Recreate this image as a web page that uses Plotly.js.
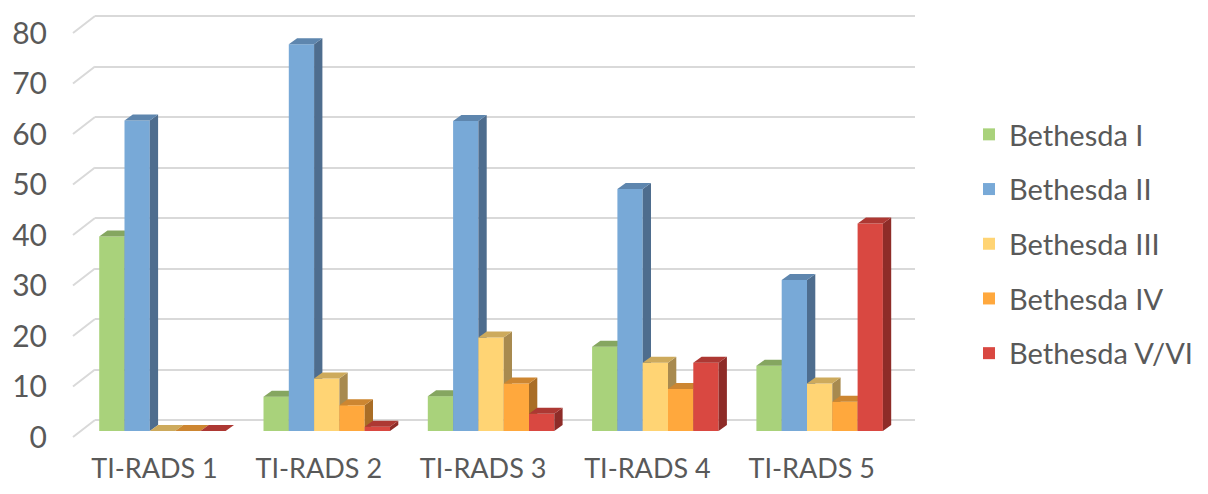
<!DOCTYPE html>
<html>
<head>
<meta charset="utf-8">
<script src="https://cdn.plot.ly/plotly-3.0.1.min.js"></script>
<style>html,body{margin:0;padding:0;background:#fff;}#chart{width:1208px;height:494px;}</style>
</head>
<body>
<div id="chart"></div>
<script>
// ---- data ----
const categories = ['TI-RADS 1', 'TI-RADS 2', 'TI-RADS 3', 'TI-RADS 4', 'TI-RADS 5'];
const seriesNames = ['Bethesda I', 'Bethesda II', 'Bethesda III', 'Bethesda IV', 'Bethesda V/VI'];
const bethesdaI   = [38.5, 6.8, 6.9, 16.7, 12.9];
const bethesdaII  = [61.5, 76.6, 61.4, 47.9, 29.9];
const bethesdaIII = [0, 10.4, 18.5, 13.5, 9.4];
const bethesdaIV  = [0, 5.1, 9.4, 8.3, 5.8];
const bethesdaV   = [0, 0.85, 3.4, 13.5, 41.1];
const yTicks = [0, 10, 20, 30, 40, 50, 60, 70, 80];

// ---- styles ----
const frontColors = ['#A9D27B', '#78A9D7', '#FFD474', '#FFA83D', '#D94841'];
const topColors   = ['#85A660', '#5E86AE', '#CDAA5C', '#CD8631', '#AD3833'];
const sideColors  = ['#6E8A4D', '#4E6D8E', '#A88A4F', '#A96D26', '#8E2C28'];
const textColor = '#595959';
const gridColor = '#D9D9D9';
const FONT = 'Lato, "Open Sans", sans-serif';

// ---- geometry (pixels) ----
const W = 1208, H = 494;
const mL = 95, mR = W - 915, mT = 10, mB = 50;
const plotW = W - mL - mR, plotH = H - mT - mB;
const pxPerCat = 164.3, pxPerUnit = 5.05;
const firstLabelPx = 154.5;          // absolute x of first category centre
const gridZeroPx = 420, barZeroPx = 431, frontLabelDrop = 17, diagDx = 22;
const barPx = 25.3, groupStartPx = -55.3, depthDxPx = 8.3, depthDyPx = 6;

const xMin = -(firstLabelPx - mL) / pxPerCat;
const xRange = [xMin, xMin + plotW / pxPerCat];
const gridRange = [-(plotH - (gridZeroPx - mT)) / pxPerUnit, (gridZeroPx - mT) / pxPerUnit];
const barRange = [-(plotH - (barZeroPx - mT)) / pxPerUnit, (barZeroPx - mT) / pxPerUnit];
const barW = barPx / pxPerCat, groupOff = groupStartPx / pxPerCat;
const dx = depthDxPx / pxPerCat, dy = depthDyPx / pxPerUnit;

const allSeries = [bethesdaI, bethesdaII, bethesdaIII, bethesdaIV, bethesdaV];
const xIdx = categories.map((c, i) => i);

const traces = [];
const layout = {
  width: W, height: H,
  margin: {l: mL, r: mR, t: mT, b: mB},
  paper_bgcolor: '#fff', plot_bgcolor: 'rgba(0,0,0,0)',
  showlegend: true,
  legend: {
    x: (969 - mL) / plotW, xanchor: 'left', y: (mT + plotH - 244) / plotH, yanchor: 'middle',
    font: {family: FONT, size: 29, color: textColor},
    traceorder: 'grouped', tracegroupgap: 14, itemwidth: 30
  },
  xaxis: {
    type: 'linear', range: xRange, tickvals: xIdx, ticktext: categories,
    showgrid: false, zeroline: false, showline: false, ticks: '',
    ticklabelstandoff: 6,
    tickfont: {family: FONT, size: 27, color: textColor}, fixedrange: true
  },
  yaxis: {
    range: gridRange, tickvals: yTicks, ticktext: yTicks.map(String),
    showgrid: true, gridcolor: gridColor, gridwidth: 2, zeroline: false, showline: false,
    ticks: '', ticklabelshift: frontLabelDrop, ticklabelstandoff: 47,
    tickfont: {family: FONT, size: 30, color: textColor}, fixedrange: true
  },
  shapes: yTicks.map(v => ({
    type: 'line', xref: 'paper', yref: 'y',
    x0: -diagDx / plotW, x1: 0, y0: v - frontLabelDrop / pxPerUnit, y1: v,
    line: {color: gridColor, width: 2}, layer: 'below'
  }))
};

// anchor trace for the base subplot
traces.push({type: 'scatter', x: [], y: [], xaxis: 'x', yaxis: 'y', showlegend: false, hoverinfo: 'skip'});

allSeries.forEach((vals, s) => {
  const n = s + 2;
  const xa = 'x' + n, ya = 'y' + n;
  layout['xaxis' + n] = {overlaying: 'x', range: xRange, visible: false, fixedrange: true};
  layout['yaxis' + n] = {overlaying: 'y', range: barRange, visible: false, fixedrange: true};
  const off = groupOff + s * barW;
  traces.push({
    type: 'bar', name: seriesNames[s], legendgroup: 'g' + s,
    x: xIdx, y: vals, width: barW, offset: off,
    marker: {color: frontColors[s], line: {width: 0}},
    xaxis: xa, yaxis: ya, hoverinfo: 'skip'
  });
  const tx = [], ty = [], sx = [], sy = [];
  vals.forEach((v, k) => {
    const x0 = k + off, x1 = x0 + barW;
    tx.push(x0, x1, x1 + dx, x0 + dx, x0, null);
    ty.push(v, v, v + dy, v + dy, v, null);
    sx.push(x1, x1 + dx, x1 + dx, x1, x1, null);
    sy.push(0, dy, v + dy, v, 0, null);
  });
  traces.push({type: 'scatter', mode: 'lines', x: sx, y: sy, fill: 'toself',
    fillcolor: sideColors[s], line: {width: 0, color: sideColors[s]},
    xaxis: xa, yaxis: ya, showlegend: false, hoverinfo: 'skip'});
  traces.push({type: 'scatter', mode: 'lines', x: tx, y: ty, fill: 'toself',
    fillcolor: topColors[s], line: {width: 0, color: topColors[s]},
    xaxis: xa, yaxis: ya, showlegend: false, hoverinfo: 'skip'});
});

Plotly.newPlot('chart', traces, layout, {displayModeBar: false, staticPlot: true});
</script>
</body>
</html>
